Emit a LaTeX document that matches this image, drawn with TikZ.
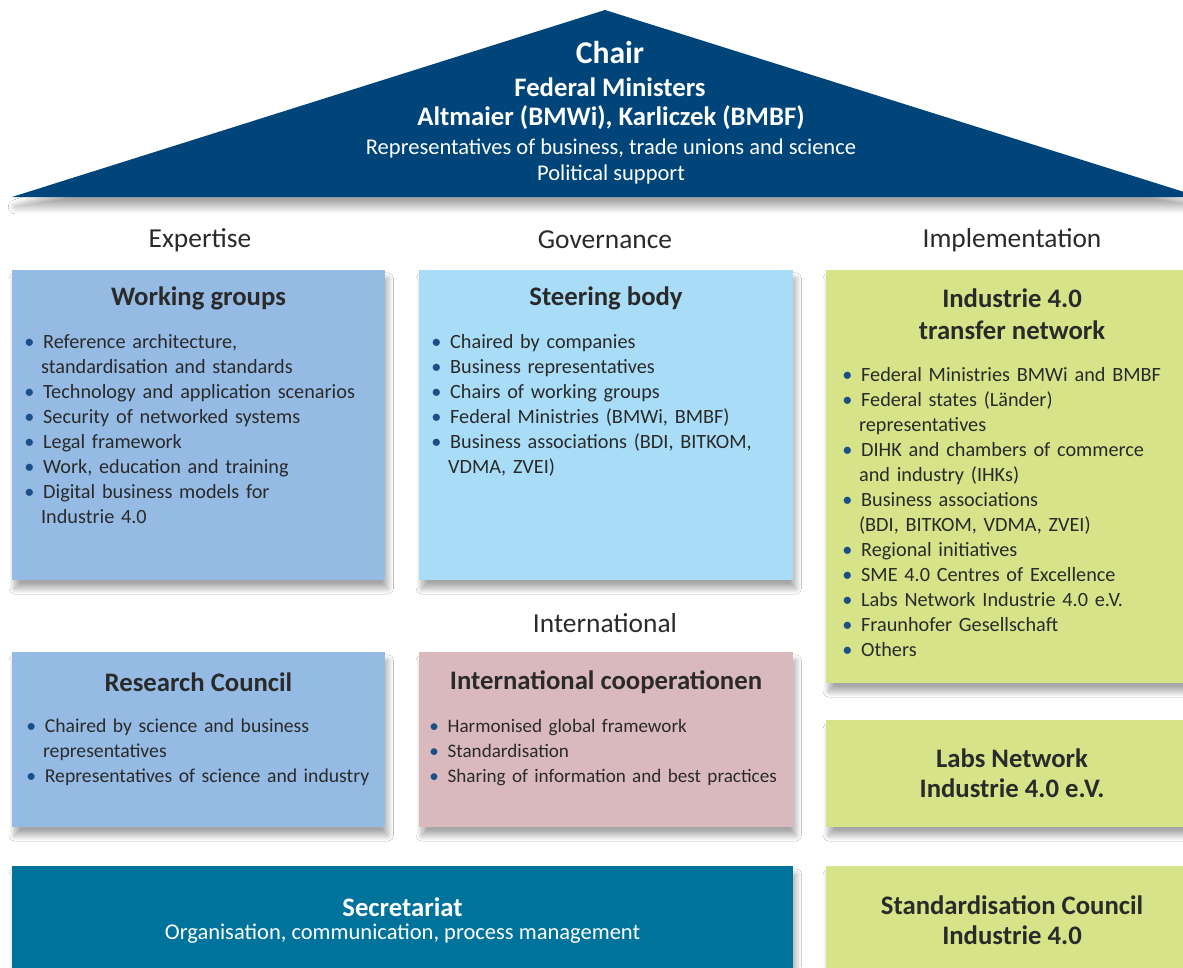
\documentclass[tikz,border=0pt]{standalone}
\usepackage{fontspec}
\setmainfont{Carlito}
\usetikzlibrary{positioning,shadows.blur}
\definecolor{roofblue}{HTML}{00457A}
\definecolor{wgblue}{HTML}{95BBE4}
\definecolor{sbblue}{HTML}{A9DDF7}
\definecolor{implgreen}{HTML}{D7E388}
\definecolor{intlpink}{HTML}{D9B9BD}
\definecolor{secteal}{HTML}{00739C}
\definecolor{textgrey}{HTML}{2A2A2A}
\definecolor{dotblue}{HTML}{1B4F8A}
\newcommand{\dotlist}[1]{\begin{list}{\textcolor{dotblue}{\textbullet}}{%
  \setlength{\leftmargin}{0.42cm}\setlength{\labelwidth}{0.2cm}%
  \setlength{\labelsep}{0.22cm}\setlength{\itemsep}{0pt}\setlength{\parsep}{0pt}%
  \setlength{\topsep}{0pt}\setlength{\partopsep}{0pt}}#1\end{list}}
\begin{document}
\begin{tikzpicture}[x=0.025cm, y=-0.025cm,
  orgbox/.style={rectangle, inner sep=0pt,
    blur shadow={shadow xshift=2pt, shadow yshift=-6pt, shadow blur steps=20,
      shadow opacity=35, shadow blur radius=4pt}},
  boxtitle/.style={font=\fontsize{19}{21.5}\selectfont\bfseries, text=textgrey, align=center},
  colhead/.style={font=\fontsize{19.5}{22}\selectfont, text=textgrey},
  itemlist/.style={anchor=north west, inner sep=0pt, text width=8.8cm,
    font=\fontsize{14.4}{17.8}\selectfont, text=textgrey, align=left},
  rooftext/.style={text=white, font=\fontsize{16}{19}\selectfont}]
\useasboundingbox[fill=white] (0,0) rectangle (1183,967);

% roof
\fill[roofblue, blur shadow={shadow yshift=-7pt, shadow blur steps=20, shadow opacity=35,
    shadow blur radius=5pt}]
  (12,197) -- (605,10) -- (1200,197) -- cycle;
\node[rooftext, font=\fontsize{22.5}{25}\selectfont\bfseries] (chair) at (610,53) {Chair};
\node[rooftext, font=\fontsize{19}{22}\selectfont\bfseries] (fedmin) at (610,87) {Federal Ministers};
\node[rooftext, font=\fontsize{19}{22}\selectfont\bfseries] (ministers) at (611,118) {Altmaier (BMWi), Karliczek (BMBF)};
\node[rooftext] (reps) at (611,148) {Representatives of business, trade unions and science};
\node[rooftext] (polsup) at (611,174) {Political support};

% column headings
\node[colhead] (expertise) at (200,240) {Expertise};
\node[colhead] (governance) at (605,240) {Governance};
\node[colhead] (implementation) at (1012,240) {Implementation};
\node[colhead] (international) at (605,623) {International};

% boxes
\node[orgbox, fill=wgblue, minimum width=9.325cm, minimum height=7.75cm] (wg) at (198.5,425) {};
\node[orgbox, fill=sbblue, minimum width=9.35cm, minimum height=7.75cm] (sb) at (606,425) {};
\node[orgbox, fill=implgreen, minimum width=9.1cm, minimum height=10.325cm] (tn) at (1008,476.5) {};
\node[orgbox, fill=wgblue, minimum width=9.325cm, minimum height=4.375cm] (rc) at (198.5,739.5) {};
\node[orgbox, fill=intlpink, minimum width=9.35cm, minimum height=4.375cm] (ic) at (606,739.5) {};
\node[orgbox, fill=implgreen, minimum width=9.1cm, minimum height=2.675cm] (ln) at (1008,773.5) {};
\node[orgbox, fill=secteal, minimum width=19.525cm, minimum height=2.8cm] (sec) at (402.5,922) {};
\node[orgbox, fill=implgreen, minimum width=9.1cm, minimum height=2.8cm] (sc) at (1008,922) {};

% working groups
\node[boxtitle] (wgtitle) at (198.5,298) {Working groups};
\node[itemlist] (wglist) at (24,323) {\dotlist{%
  \item Reference architecture,\newline standardisation and standards
  \item Technology and application scenarios
  \item Security of networked systems
  \item Legal framework
  \item Work, education and training
  \item Digital business models for\newline Industrie 4.0}};

% steering body
\node[boxtitle] (sbtitle) at (606,298) {Steering body};
\node[itemlist] (sblist) at (431,323) {\dotlist{%
  \item Chaired by companies
  \item Business representatives
  \item Chairs of working groups
  \item Federal Ministries (BMWi, BMBF)
  \item Business associations (BDI, BITKOM,\newline VDMA, ZVEI)}};

% transfer network
\node[boxtitle, font=\fontsize{19}{23}\selectfont\bfseries] (tntitle) at (1012,314) {Industrie 4.0\\transfer network};
\node[itemlist] (tnlist) at (842,356) {\dotlist{%
  \item Federal Ministries BMWi and BMBF
  \item Federal states (Länder)\newline representatives
  \item DIHK and chambers of commerce\newline and industry (IHKs)
  \item Business associations\newline (BDI, BITKOM, VDMA, ZVEI)
  \item Regional initiatives
  \item SME 4.0 Centres of Excellence
  \item Labs Network Industrie 4.0 e.V.
  \item Fraunhofer Gesellschaft
  \item Others}};

% research council
\node[boxtitle] (rctitle) at (198.5,682) {Research Council};
\node[itemlist, font=\fontsize{14}{17.8}\selectfont] (rclist) at (26,707) {\dotlist{%
  \item Chaired by science and business\newline representatives
  \item Representatives of science and industry}};

% international cooperation
\node[boxtitle] (ictitle) at (606,682) {International cooperationen};
\node[itemlist, text width=9.3cm, font=\fontsize{13.6}{17.8}\selectfont] (iclist) at (429,707) {\dotlist{%
  \item Harmonised global framework
  \item Standardisation
  \item Sharing of information and best practices}};

% labs network, standardisation council
\node[boxtitle] (lntitle) at (1012,773) {Labs Network\\Industrie 4.0 e.V.};
\node[boxtitle] (sctitle) at (1012,920) {Standardisation Council\\Industrie 4.0};

% secretariat
\node[rooftext, font=\fontsize{19}{22}\selectfont\bfseries] (sectitle) at (402.5,907) {Secretariat};
\node[rooftext] (sectext) at (402.5,934) {Organisation, communication, process management};
\end{tikzpicture}
\end{document}
